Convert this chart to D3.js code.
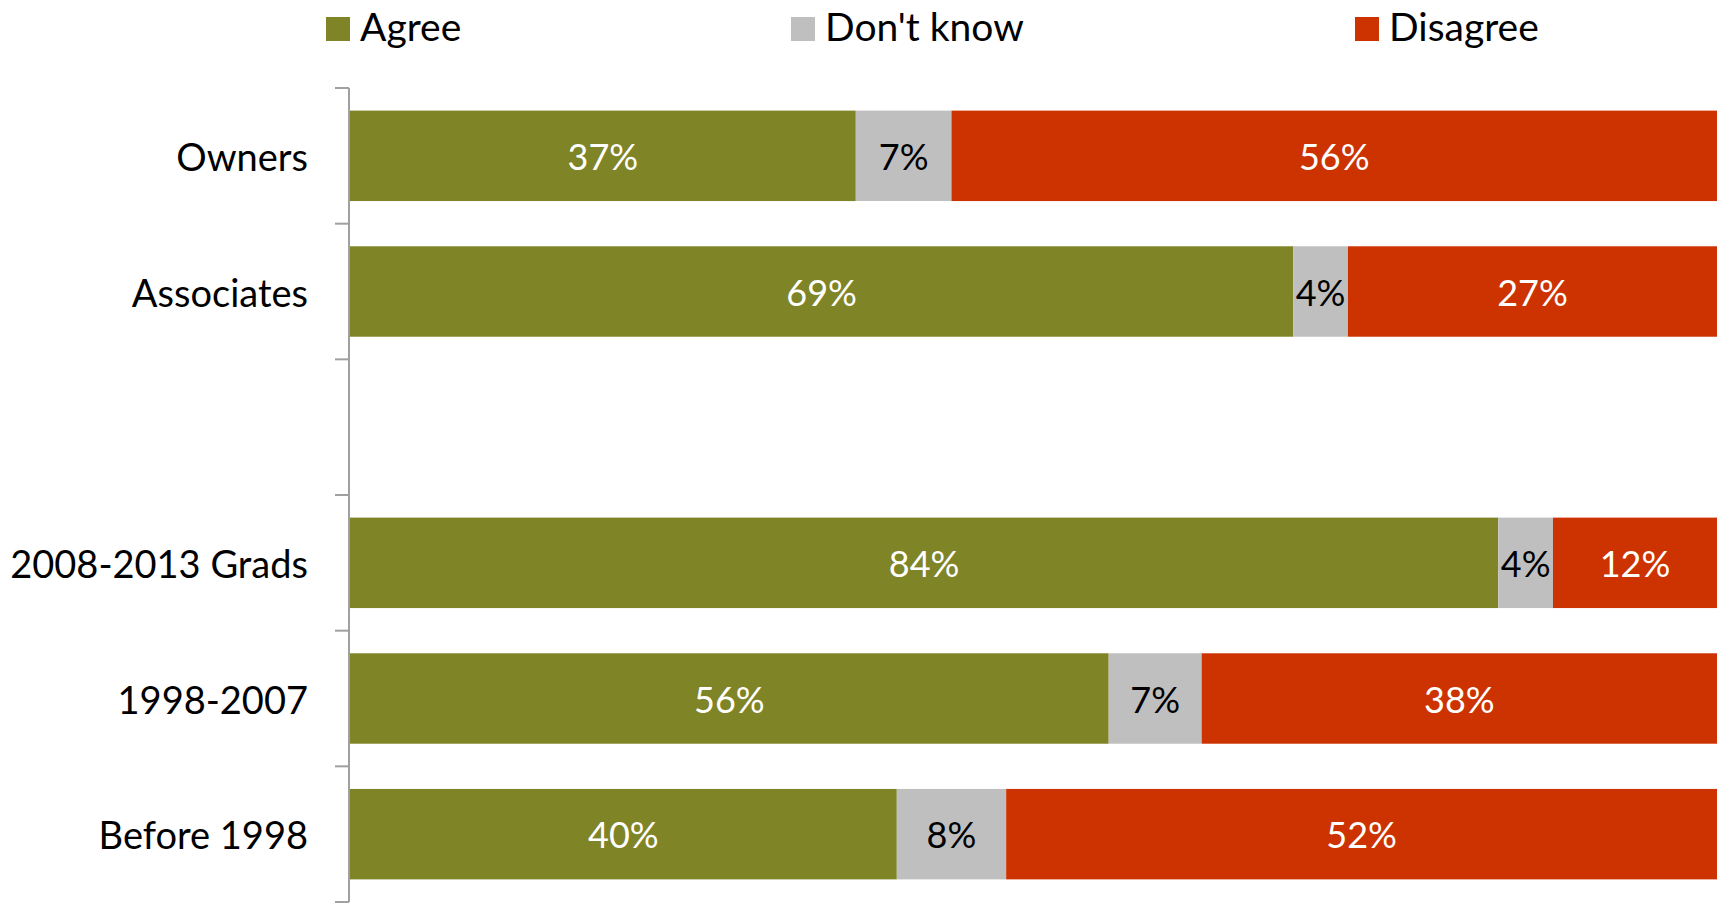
<!DOCTYPE html>
<html>
<head>
<meta charset="utf-8">
<script src="https://cdn.jsdelivr.net/npm/d3@7/dist/d3.min.js"></script>
<style>
  html, body { margin: 0; padding: 0; background: #fff; }
  svg { display: block; }
  text { font-family: Lato, "Open Sans", sans-serif; }
</style>
</head>
<body>
<svg id="chart" width="1729" height="908"></svg>
<script>
// ---- data ----
const categories = ["Owners", "Associates", " ", "2008-2013 Grads", "1998-2007", "Before 1998"];
const seriesNames = ["Agree", "Don't know", "Disagree"];
const agree    = [37, 69, null, 84, 55.5, 40];
const dontKnow = [7, 4, null, 4, 6.8, 8];
const disagree = [56, 27, null, 12, 37.7, 52];
const seriesColors = ["#7f8427", "#bfbfbf", "#cc3300"];
const labelColors = ["#ffffff", "#000000", "#ffffff"];

// ---- layout ----
const svg = d3.select("#chart");
const xLeft = 350, xRight = 1717, yTop = 88, yBottom = 902, axisX = 349;

const x = d3.scaleLinear().domain([0, 100]).range([xLeft, xRight]);
const y = d3.scaleBand().domain(categories).range([yTop, yBottom])
  .paddingInner(1/3).paddingOuter(1/6);

const rows = categories.map((c, i) => ({ cat: c, vals: [agree[i], dontKnow[i], disagree[i]] }))
  .filter(r => r.vals[0] != null);

const segs = [];
rows.forEach(r => {
  let acc = 0;
  r.vals.forEach((v, k) => {
    segs.push({ cat: r.cat, k, v, x0: acc, x1: acc + v });
    acc += v;
  });
});

// bars
svg.append("g").selectAll("rect").data(segs).join("rect")
  .attr("x", d => x(d.x0))
  .attr("y", d => y(d.cat))
  .attr("width", d => x(d.x1) - x(d.x0))
  .attr("height", y.bandwidth())
  .attr("fill", d => seriesColors[d.k]);

// value labels
const fmt = v => Math.round(v) + "%";
svg.append("g").selectAll("text").data(segs).join("text")
  .attr("x", d => (x(d.x0) + x(d.x1)) / 2)
  .attr("y", d => y(d.cat) + y.bandwidth() / 2)
  .attr("text-anchor", "middle")
  .attr("dominant-baseline", "central")
  .attr("font-size", 36)
  .attr("fill", d => labelColors[d.k])
  .text(d => fmt(d.v));

// axis line + ticks at category boundaries
const ax = svg.append("g");
ax.append("line").attr("x1", axisX).attr("x2", axisX).attr("y1", yTop).attr("y2", yBottom)
  .attr("stroke", "#a0a0a0").attr("stroke-width", 2);
d3.range(categories.length + 1).forEach(i => {
  const ty = yTop + i * y.step();
  ax.append("line").attr("x1", 335).attr("x2", axisX).attr("y1", ty).attr("y2", ty)
    .attr("stroke", "#a0a0a0").attr("stroke-width", 2);
});

// category labels
svg.append("g").selectAll("text").data(categories.filter(c => c.trim() !== "")).join("text")
  .attr("x", 308)
  .attr("y", d => y(d) + y.bandwidth() / 2)
  .attr("text-anchor", "end")
  .attr("dominant-baseline", "central")
  .attr("font-size", 38)
  .attr("fill", "#000")
  .text(d => d);

// legend
const legendX = [326, 791, 1355];
const lg = svg.append("g");
seriesNames.forEach((s, i) => {
  lg.append("rect").attr("x", legendX[i]).attr("y", 17).attr("width", 24).attr("height", 24)
    .attr("fill", seriesColors[i]);
  lg.append("text").attr("x", legendX[i] + 34).attr("y", 41)
    .attr("font-size", 39).attr("fill", "#000").text(s);
});
</script>
</body>
</html>
